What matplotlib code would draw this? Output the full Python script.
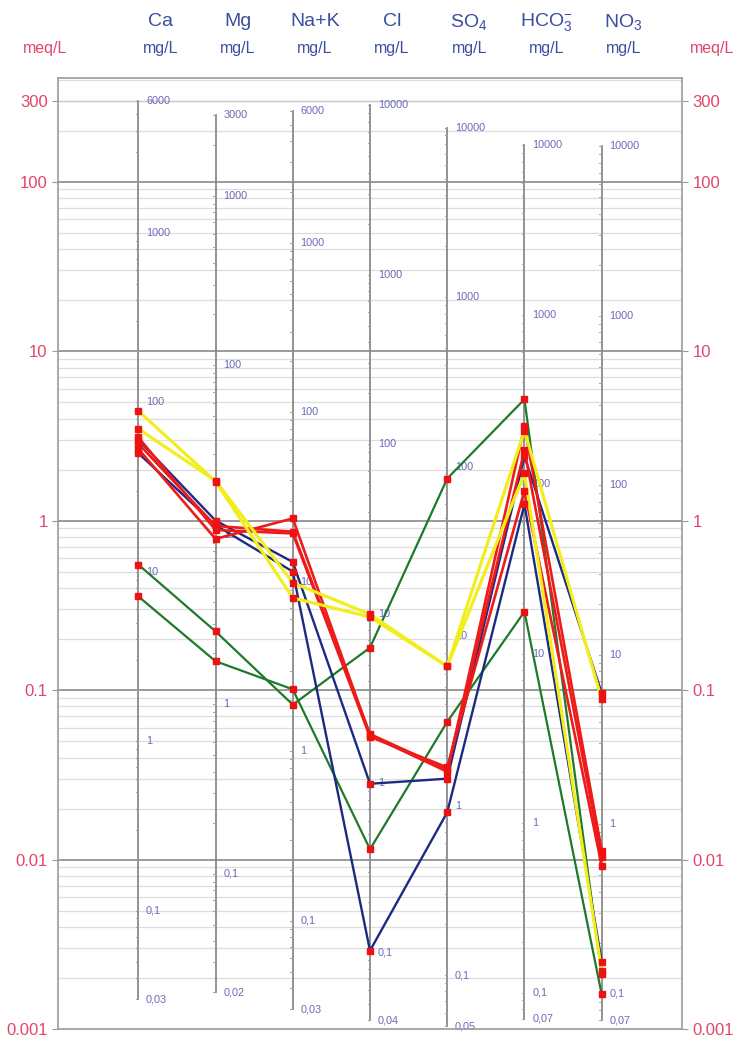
import matplotlib
matplotlib.use('Agg')
import matplotlib.pyplot as plt
import numpy as np

plt.rcParams['font.family'] = ['Liberation Sans Narrow', 'Liberation Sans', 'DejaVu Sans']
plt.rcParams['mathtext.default'] = 'regular'

# ions / columns
ions = ['Ca', 'Mg', 'Na+K', 'Cl', r'SO$_4$', r'HCO$_3^{-}$', r'NO$_3$']
eq_weight = [20.04, 12.15, 23.0, 35.45, 48.03, 61.02, 62.0]   # mg per meq
col_top = [6000, 3000, 6000, 10000, 10000, 10000, 10000]       # mg/L
col_bottom = [0.03, 0.02, 0.03, 0.04, 0.05, 0.07, 0.07]         # mg/L
col_ticks = [
    [6000, 1000, 100, 10, 1, 0.1, 0.03],
    [3000, 1000, 100, 10, 1, 0.1, 0.02],
    [6000, 1000, 100, 10, 1, 0.1, 0.03],
    [10000, 1000, 100, 10, 1, 0.1, 0.04],
    [10000, 1000, 100, 10, 1, 0.1, 0.05],
    [10000, 1000, 100, 10, 1, 0.1, 0.07],
    [10000, 1000, 100, 10, 1, 0.1, 0.07],
]
meq_ticks = [300, 100, 10, 1, 0.1, 0.01, 0.001]
meq_labels = ['300', '100', '10', '1', '0.1', '0.01', '0.001']

# samples, meq/L (Ca, Mg, Na+K, Cl, SO4, HCO3, NO3)
green1 = [0.55, 0.222, 0.082, 0.178, 1.77, 5.2, 0.0021]
green2 = [0.357, 0.148, 0.101, 0.0115, 0.065, 0.29, 0.0016]
blue1 = [3.0, 1.0, 0.57, 0.028, 0.030, 2.4, 0.096]
blue2 = [2.5, 0.94, 0.50, 0.0029, 0.019, 1.25, 0.0025]
red1 = [2.65, 0.78, 1.03, 0.054, 0.033, 3.6, 0.0113]
red2 = [2.85, 0.93, 0.86, 0.055, 0.034, 2.6, 0.0103]
red3 = [3.1, 0.88, 0.84, 0.053, 0.035, 1.5, 0.0092]
yellow1 = [4.44, 1.70, 0.35, 0.27, 0.138, 3.4, 0.088]
yellow2 = [3.48, 1.72, 0.43, 0.28, 0.138, 1.9, 0.0022]

series = [(green1, '#1e7a2a', 1.6), (green2, '#1e7a2a', 1.6),
          (blue1, '#1c2a82', 1.7), (blue2, '#1c2a82', 1.7),
          (red1, '#ee1b1b', 1.9), (red2, '#ee1b1b', 1.9), (red3, '#ee1b1b', 1.9),
          (yellow1, '#f2ee1e', 2.3), (yellow2, '#f2ee1e', 2.3)]

pink = '#e0466a'
navy = '#3a4ea2'
lab_col = '#6a6ab8'

fig = plt.figure(figsize=(7.37, 10.38), dpi=100)
ax = fig.add_axes([58/737, 9/1038, 624/737, 951/1038])
ax.set_yscale('log')
ax.set_ylim(0.001, 409)
ax.set_xlim(-0.04, 8.04)
x = np.arange(1, 8)

# horizontal grid
for e in range(-3, 3):
    for m in range(2, 10):
        v = m * 10.0**e
        if v < 409:
            ax.axhline(v, color='#dddddd', lw=0.9, zorder=0)
for v in [100, 10, 1, 0.1, 0.01]:
    ax.axhline(v, color='#9a9a9a', lw=1.4, zorder=0)
ax.axhline(300, color='#cccccc', lw=1.0, zorder=0)

# column axes in mg/L
for i in range(7):
    ax.plot([x[i], x[i]], [col_top[i]/eq_weight[i], col_bottom[i]/eq_weight[i]],
            color='#8a8a8a', lw=1.3, zorder=1)
    for e in range(-2, 5):
        for m in range(1, 10):
            mg = m * 10.0**e
            if col_bottom[i] <= mg <= col_top[i]:
                ax.plot([x[i]-0.03, x[i]], [mg/eq_weight[i]]*2, color='#a0a0a0', lw=0.7, zorder=1)
    for t in col_ticks[i]:
        s = ('%g' % t).replace('.', ',')
        ax.text(x[i]+0.1, t/eq_weight[i], s, color=lab_col, fontsize=7.8,
                ha='left', va='center', zorder=1.5)

# samples
for vals, c, lw in series:
    ax.plot(x, vals, color=c, lw=lw, zorder=3)
for vals, c, lw in series:
    ax.plot(x, vals, ls='none', marker='s', ms=4.2, color='#ee1111', zorder=4)

# axes styling
ax.set_xticks([])
ax.set_yticks(meq_ticks)
ax.set_yticklabels(meq_labels)
ax.minorticks_off()
ax.tick_params(axis='y', which='both', colors='#999999', labelcolor=pink,
               labelsize=12, length=4, labelright=True, right=True)
for sp in ax.spines.values():
    sp.set_color('#9a9a9a')
    sp.set_linewidth(1.2)

# header
for i in range(7):
    px = 58 + (x[i] + 0.04) / 8.08 * 624
    fig.text((px + 22)/737, 1 - 22/1038, ions[i], color=navy, fontsize=14,
             ha='center', va='center')
    fig.text((px + 22)/737, 1 - 48/1038, 'mg/L', color=navy, fontsize=11.5,
             ha='center', va='center')
fig.text(45/737, 1 - 48/1038, 'meq/L', color=pink, fontsize=11.5, ha='center', va='center')
fig.text(712/737, 1 - 48/1038, 'meq/L', color=pink, fontsize=11.5, ha='center', va='center')

fig.savefig('out.png', dpi=100)
